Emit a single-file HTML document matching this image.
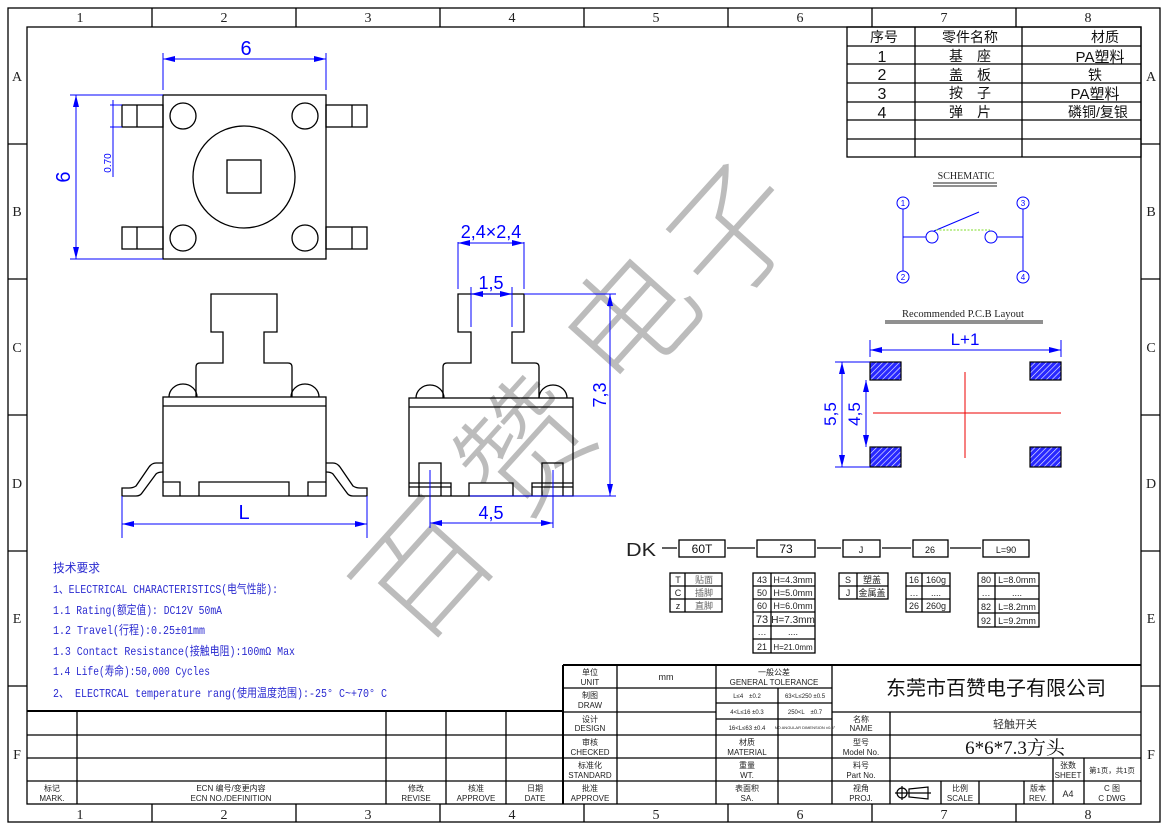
<!DOCTYPE html>
<html><head><meta charset="utf-8"><style>
html,body{margin:0;padding:0;background:#fff;}
svg{display:block;}
.k{stroke:#000;fill:none;stroke-width:1.3}
.b{stroke:#0000ff;fill:none;stroke-width:1}
text{font-family:"Liberation Sans","Noto Sans CJK SC",sans-serif;}
.s, .s text{font-family:"Liberation Serif","Noto Serif CJK SC",serif;}
.t8{font-size:8px;text-anchor:middle;fill:#222}
.bt{fill:#0000ff;font-family:"Liberation Sans",sans-serif;}
.lt{fill:#2a2ad0;font-family:"Liberation Mono","Noto Sans CJK SC",monospace;font-size:12px}
</style></head><body>
<svg width="1168" height="830" viewBox="0 0 1168 830" xmlns="http://www.w3.org/2000/svg">
<rect x="0" y="0" width="1168" height="830" fill="#fff"/>
<!-- watermark -->
<g fill="#bcbcbc" font-family="Noto Sans CJK SC, sans-serif" font-size="128" font-weight="300" text-anchor="middle">
<text transform="translate(425,572) rotate(-48)" y="44">百</text>
<text transform="translate(528,448) rotate(-48)" y="44">赞</text>
<text transform="translate(632,322) rotate(-48)" y="44">电</text>
<text transform="translate(735,232) rotate(-48)" y="44">子</text>
</g>
<!-- frame -->
<rect x="8" y="8" width="1152" height="814" class="k" stroke-width="1.5"/>
<rect x="27" y="27" width="1114" height="777" class="k" stroke-width="2"/>
<g class="k">
<path d="M152 8V27M296 8V27M440 8V27M584 8V27M728 8V27M872 8V27M1016 8V27"/>
<path d="M152 804V822M296 804V822M440 804V822M584 804V822M728 804V822M872 804V822M1016 804V822"/>
<path d="M8 144H27M8 279H27M8 415H27M8 551H27M8 686H27"/>
<path d="M1141 144H1160M1141 279H1160M1141 415H1160M1141 551H1160M1141 686H1160"/>
</g>
<g class="s" font-size="14" text-anchor="middle" fill="#222">
<text x="80" y="22">1</text><text x="224" y="22">2</text><text x="368" y="22">3</text><text x="512" y="22">4</text><text x="656" y="22">5</text><text x="800" y="22">6</text><text x="944" y="22">7</text><text x="1088" y="22">8</text>
<text x="80" y="819">1</text><text x="224" y="819">2</text><text x="368" y="819">3</text><text x="512" y="819">4</text><text x="656" y="819">5</text><text x="800" y="819">6</text><text x="944" y="819">7</text><text x="1088" y="819">8</text>
<text x="17" y="81">A</text><text x="17" y="216">B</text><text x="17" y="352">C</text><text x="17" y="488">D</text><text x="17" y="623">E</text><text x="17" y="759">F</text>
<text x="1151" y="81">A</text><text x="1151" y="216">B</text><text x="1151" y="352">C</text><text x="1151" y="488">D</text><text x="1151" y="623">E</text><text x="1151" y="759">F</text>
</g>

<!-- parts table -->
<g class="k">
<rect x="847" y="27" width="294" height="130"/>
<path d="M847 46H1141M847 64H1141M847 83H1141M847 102H1141M847 120H1141M847 139H1141M915 27V157M1022 27V157"/>
</g>
<g font-size="14" text-anchor="middle" fill="#111">
<text x="884" y="42">序号</text><text x="970" y="42">零件名称</text><text x="1105" y="42">材质</text>
<text x="882" y="62" font-size="16">1</text><text x="970" y="61">基　座</text><text x="1100" y="62" font-size="15">PA塑料</text>
<text x="882" y="80" font-size="16">2</text><text x="970" y="80">盖　板</text><text x="1095" y="80">铁</text>
<text x="882" y="99" font-size="16">3</text><text x="970" y="98">按　子</text><text x="1095" y="99" font-size="15">PA塑料</text>
<text x="882" y="118" font-size="16">4</text><text x="970" y="117">弹　片</text><text x="1098" y="117">磷铜/复银</text>
</g>

<!-- schematic -->
<text x="966" y="179" font-size="10" text-anchor="middle" class="s" fill="#222">SCHEMATIC</text>
<path d="M933 183H997M933 186H997" stroke="#222" stroke-width="1"/>
<g class="b" stroke-width="1.2">
<circle cx="903" cy="203" r="6"/><circle cx="1023" cy="203" r="6"/><circle cx="903" cy="277" r="6"/><circle cx="1023" cy="277" r="6"/>
<path d="M903 209V271M1023 209V271M903 237H926M997 237H1023M934 231L979 212"/>
<circle cx="932" cy="237" r="6"/><circle cx="991" cy="237" r="6"/>
</g>
<path d="M936 230H990" stroke="#7fdc2a" stroke-dasharray="2 1.5" stroke-width="1"/>
<g font-size="8" fill="#00f" text-anchor="middle"><text x="903" y="206">1</text><text x="1023" y="206">3</text><text x="903" y="280">2</text><text x="1023" y="280">4</text></g>

<!-- PCB -->
<text x="963" y="317" font-size="10.5" text-anchor="middle" class="s" fill="#222">Recommended P.C.B Layout</text>
<path d="M885 321H1043M885 323H1043" stroke="#222" stroke-width="1"/>
<defs><pattern id="h" width="4" height="4" patternUnits="userSpaceOnUse" patternTransform="rotate(45)"><rect width="4" height="4" fill="#2828ff"/><path d="M0 0V4" stroke="#fff" stroke-width="1.2"/></pattern></defs>
<g stroke="#000" stroke-width="1.2" fill="url(#h)">
<rect x="870" y="362" width="31" height="18"/><rect x="1030" y="362" width="31" height="18"/>
<rect x="870" y="447" width="31" height="20"/><rect x="1030" y="447" width="31" height="20"/>
</g>
<path d="M873 413H1061M965 372V458" stroke="#e00" stroke-width="1"/>
<g class="b">
<path d="M870 340V357M1061 340V357M870 350H1061"/>
<path d="M835 362H870M835 467H870M842 362V467M866 380V447"/>
</g>
<g fill="#00f"><path d="M870 350l12 -3v6z"/><path d="M1061 350l-12 -3v6z"/><path d="M842 362l-3 12h6z"/><path d="M842 467l-3 -12h6z"/><path d="M866 380l-3 12h6z"/><path d="M866 447l-3 -12h6z"/></g>
<text x="965" y="345" font-size="17" class="bt" text-anchor="middle">L+1</text>
<text transform="translate(836,414) rotate(-90)" font-size="17" class="bt" text-anchor="middle">5,5</text>
<text transform="translate(860,414) rotate(-90)" font-size="17" class="bt" text-anchor="middle">4,5</text>

<!-- top view -->
<g class="k">
<rect x="163" y="95" width="163" height="164"/>
<circle cx="183" cy="116" r="13"/><circle cx="305" cy="116" r="13"/><circle cx="183" cy="238" r="13"/><circle cx="305" cy="238" r="13"/>
<circle cx="244" cy="177" r="51"/>
<rect x="227" y="160" width="34" height="33"/>
<rect x="122" y="105" width="41" height="22"/><path d="M137 105V127"/>
<rect x="326" y="105" width="41" height="22"/><path d="M352 105V127"/>
<rect x="122" y="227" width="41" height="22"/><path d="M137 227V249"/>
<rect x="326" y="227" width="41" height="22"/><path d="M352 227V249"/>
</g>
<g class="b">
<path d="M163 53V90M326 53V90M163 59H326"/>
<path d="M70 95H163M70 259H163M76 95V259"/>
<path d="M110 105H122M110 127H122M113 100V177"/>
</g>
<g fill="#00f"><path d="M163 59l12 -3v6z"/><path d="M326 59l-12 -3v6z"/><path d="M76 95l-3 12h6z"/><path d="M76 259l-3 -12h6z"/></g>
<text x="246" y="55" font-size="20" class="bt" text-anchor="middle">6</text>
<text transform="translate(70,177) rotate(-90)" font-size="20" class="bt" text-anchor="middle">6</text>
<text transform="translate(111,163) rotate(-90)" font-size="10" class="bt" text-anchor="middle">0.70</text>

<!-- left side view -->
<g class="k">
<rect x="163" y="397" width="163" height="99"/>
<path d="M163 406H326"/>
<path d="M196 397V367q0-4 4-4H223V332H211V294H277V332H264V363H288q4 0 4 4V397"/>
<path d="M169 397a14 13 0 0 1 28 0M291 397a14 13 0 0 1 28 0"/>
<path d="M163 482H180V496M199 496V482H289V496M308 496V482H326"/>
<path d="M163 463H156Q152 463 149 467L136 486Q133 488 129 488H122V496H136Q140 496 142 493L156 474Q158 472 163 472"/>
<path d="M326 463H333Q337 463 340 467L353 486Q356 488 360 488H367V496H353Q349 496 347 493L333 474Q331 472 326 472"/>
</g>
<g class="b"><path d="M122 496V538M367 496V538M122 524H367"/></g>
<g fill="#00f"><path d="M122 524l12 -3v6z"/><path d="M367 524l-12 -3v6z"/></g>
<text x="244" y="519" font-size="20" class="bt" text-anchor="middle">L</text>

<!-- right side view -->
<g class="k">
<rect x="409" y="398" width="164" height="98"/>
<path d="M409 407H573"/>
<path d="M443 398V367q0-4 4-4H471V332H458V294H524V332H512V363H535q4 0 4 4V398"/>
<path d="M416 398a14 13 0 0 1 28 0M539 398a14 13 0 0 1 28 0"/>
<path d="M409 483H451V496M409 487H451M419 496V463H441V496"/>
<path d="M469 496V483H513V496"/>
<path d="M532 496V483H573M532 487H573M542 496V463H563V496"/>
</g>
<g class="b">
<path d="M458 242V289M524 242V289M458 243H524"/>
<path d="M471 287V327M512 287V327M471 294H512"/>
<path d="M524 294H616M470 496H616M610 294V496"/>
<path d="M430 470V528M553 470V528M430 523H553"/>
</g>
<g fill="#00f"><path d="M458 243l12 -3v6z"/><path d="M524 243l-12 -3v6z"/><path d="M471 294l12 -3v6z"/><path d="M512 294l-12 -3v6z"/><path d="M610 294l-3 12h6z"/><path d="M610 496l-3 -12h6z"/><path d="M430 523l12 -3v6z"/><path d="M553 523l-12 -3v6z"/></g>
<text x="491" y="238" font-size="18" class="bt" text-anchor="middle">2,4×2,4</text>
<text x="491" y="289" font-size="18" class="bt" text-anchor="middle">1,5</text>
<text x="491" y="519" font-size="18" class="bt" text-anchor="middle">4,5</text>
<text transform="translate(606,395) rotate(-90)" font-size="18" class="bt" text-anchor="middle">7,3</text>

<!-- order code -->
<text x="626" y="556" font-size="18" fill="#222" textLength="30" lengthAdjust="spacingAndGlyphs">DK</text>
<g class="k" stroke-width="1">
<path d="M662 548H677M727 548H755M817 548H841M882 548H911M950 548H981"/>
<rect x="679" y="540" width="46" height="17"/><rect x="757" y="540" width="58" height="17"/><rect x="843" y="540" width="37" height="17"/><rect x="913" y="540" width="35" height="17"/><rect x="983" y="540" width="46" height="17"/>
<rect x="670" y="573" width="52" height="39"/><path d="M670 586H722M670 599H722M685 573V612"/>
<rect x="753" y="573" width="62" height="80"/><path d="M753 586H815M753 599H815M753 612H815M753 626H815M753 639H815M771 573V653"/>
<rect x="839" y="573" width="49" height="26"/><path d="M839 586H888M857 573V599"/>
<rect x="906" y="573" width="44" height="39"/><path d="M906 586H950M906 599H950M922 573V612"/>
<rect x="978" y="573" width="61" height="54"/><path d="M978 586H1039M978 599H1039M978 613H1039M995 573V627"/>
</g>
<g font-size="12" text-anchor="middle" fill="#111"><text x="702" y="553">60T</text><text x="786" y="553">73</text><text x="861" y="553" font-size="9">J</text><text x="930" y="553" font-size="9">26</text><text x="1006" y="553" font-size="9">L=90</text></g>
<g font-size="9" fill="#222" text-anchor="middle">
<text x="678" y="583">T</text><text x="678" y="596">C</text><text x="678" y="609">z</text>
<text x="704" y="583" fill="#666">贴面</text><text x="704" y="596" fill="#666">插脚</text><text x="704" y="609" fill="#666">直脚</text>
<text x="762" y="583">43</text><text x="762" y="596">50</text><text x="762" y="609">60</text><text x="762" y="623" font-size="11">73</text><text x="762" y="635">…</text><text x="762" y="650">21</text>
<text x="793" y="583">H=4.3mm</text><text x="793" y="596">H=5.0mm</text><text x="793" y="609">H=6.0mm</text><text x="793" y="623" font-size="10">H=7.3mm</text><text x="793" y="635">....</text><text x="793" y="650" font-size="8">H=21.0mm</text>
<text x="848" y="583">S</text><text x="848" y="596">J</text><text x="872" y="583">塑盖</text><text x="872" y="596">金属盖</text>
<text x="914" y="583">16</text><text x="914" y="596">…</text><text x="914" y="609">26</text><text x="936" y="583">160g</text><text x="936" y="596">....</text><text x="936" y="609">260g</text>
<text x="986" y="583">80</text><text x="986" y="596">…</text><text x="986" y="610">82</text><text x="986" y="624">92</text>
<text x="1017" y="583">L=8.0mm</text><text x="1017" y="596">....</text><text x="1017" y="610">L=8.2mm</text><text x="1017" y="624">L=9.2mm</text>
</g>

<!-- notes -->
<text x="53" y="572" class="lt" textLength="47" lengthAdjust="spacingAndGlyphs">技术要求</text>
<text x="53" y="593" class="lt" textLength="225" lengthAdjust="spacingAndGlyphs">1、ELECTRICAL CHARACTERISTICS(电气性能):</text>
<text x="53" y="614" class="lt" textLength="169" lengthAdjust="spacingAndGlyphs">1.1 Rating(额定值): DC12V 50mA</text>
<text x="53" y="634" class="lt" textLength="152" lengthAdjust="spacingAndGlyphs">1.2 Travel(行程):0.25±01mm</text>
<text x="53" y="655" class="lt" textLength="242" lengthAdjust="spacingAndGlyphs">1.3 Contact Resistance(接触电阻):100mΩ Max</text>
<text x="53" y="675" class="lt" textLength="157" lengthAdjust="spacingAndGlyphs">1.4 Life(寿命):50,000 Cycles</text>
<text x="53" y="697" class="lt" textLength="334" lengthAdjust="spacingAndGlyphs">2、 ELECTRCAL temperature rang(使用温度范围):-25° C~+70° C</text>

<!-- revision table -->
<g class="k">
<path d="M27 711H563" stroke-width="2"/>
<path d="M27 735H563M27 758H563M27 781H563"/>
<path d="M77 711V804M386 711V804M446 711V804M506 711V804"/>
</g>
<g class="t8">
<text x="52" y="791">标记</text><text x="52" y="801">MARK.</text>
<text x="231" y="791">ECN 编号/变更内容</text><text x="231" y="801">ECN NO./DEFINITION</text>
<text x="416" y="791">修改</text><text x="416" y="801">REVISE</text>
<text x="476" y="791">核准</text><text x="476" y="801">APPROVE</text>
<text x="535" y="791">日期</text><text x="535" y="801">DATE</text>
</g>

<!-- title block -->
<g class="k">
<path d="M563 665H1141" stroke-width="2"/>
<path d="M563 665V804" stroke-width="2"/>
<path d="M563 688H832M563 712H716M716 703H832M716 719H832M563 735H1141M563 758H1141M563 781H1141M832 712H1141"/>
<path d="M617 665V804M716 665V804M778 688V804M832 665V804M890 712V804M941 781V804M979 781V804M1024 781V804M1053 758V804M1084 758V804"/>
</g>
<g class="t8">
<text x="590" y="675">单位</text><text x="590" y="685">UNIT</text>
<text x="590" y="698">制图</text><text x="590" y="708">DRAW</text>
<text x="590" y="722">设计</text><text x="590" y="731">DESIGN</text>
<text x="590" y="745">审核</text><text x="590" y="755">CHECKED</text>
<text x="590" y="768">标准化</text><text x="590" y="778">STANDARD</text>
<text x="590" y="791">批准</text><text x="590" y="801">APPROVE</text>
<text x="666" y="680" font-size="9">mm</text>
<text x="774" y="675">一般公差</text><text x="774" y="685">GENERAL TOLERANCE</text>
<text x="747" y="698" font-size="6">L≤4　±0.2</text><text x="805" y="698" font-size="6">63&lt;L≤250 ±0.5</text>
<text x="747" y="714" font-size="6">4&lt;L≤16 ±0.3</text><text x="805" y="714" font-size="6">250&lt;L　±0.7</text>
<text x="747" y="730" font-size="6">16&lt;L≤63 ±0.4</text><text x="805" y="729" font-size="4">NO ANGULAR DIMENSION ±0.5°</text>
<text x="747" y="745">材质</text><text x="747" y="755">MATERIAL</text>
<text x="747" y="768">重量</text><text x="747" y="778">WT.</text>
<text x="747" y="791">表面积</text><text x="747" y="801">SA.</text>
<text x="861" y="722">名称</text><text x="861" y="731">NAME</text>
<text x="861" y="745">型号</text><text x="861" y="755">Model No.</text>
<text x="861" y="768">料号</text><text x="861" y="778">Part No.</text>
<text x="861" y="791">视角</text><text x="861" y="801">PROJ.</text>
<text x="960" y="791">比例</text><text x="960" y="801">SCALE</text>
<text x="1038" y="791">版本</text><text x="1038" y="801">REV.</text>
<text x="1068" y="797" font-size="9">A4</text>
<text x="1112" y="791">C 图</text><text x="1112" y="801">C DWG</text>
<text x="1068" y="768">张数</text><text x="1068" y="778">SHEET</text>
<text x="1112" y="773" font-size="7.5">第1页，共1页</text>
</g>
<text x="996" y="695" font-size="20" text-anchor="middle" fill="#111">东莞市百赞电子有限公司</text>
<text x="1015" y="728" font-size="11" text-anchor="middle" fill="#333">轻触开关</text>
<text x="1015" y="754" font-size="19" text-anchor="middle" fill="#111" class="s">6*6*7.3方头</text>
<g stroke="#000" stroke-width="1.2" fill="none">
<circle cx="902" cy="793" r="5"/><path d="M895 793H931M902 786V800M909 789L928 787V799L909 797Z"/>
</g>
</svg>
</body></html>
